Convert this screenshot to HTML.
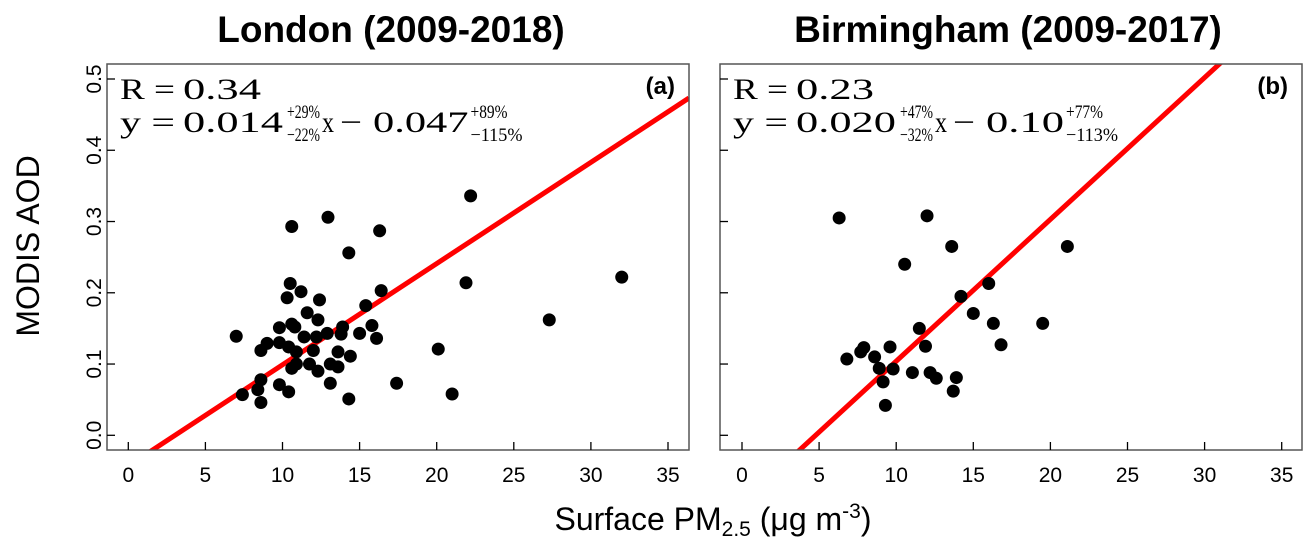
<!DOCTYPE html>
<html><head><meta charset="utf-8"><style>
body{margin:0;background:#fff;width:1315px;height:548px;overflow:hidden}
svg{display:block}
.t{font-family:"Liberation Sans",sans-serif}
.s{font-family:"Liberation Serif",serif}
</style></head><body>
<svg id="c" width="1315" height="548" xmlns="http://www.w3.org/2000/svg"></svg>
<script>
const xTicks=[0,5,10,15,20,25,30,35];
const yTicks=[0.0,0.1,0.2,0.3,0.4,0.5];
const yTickLabels=["0.0","0.1","0.2","0.3","0.4","0.5"];
const londonX=[10.6,12.95,16.3,14.3,10.5,11.2,10.3,12.4,16.4,15.4,11.6,12.3,7.0,9.8,10.6,10.8,11.4,12.2,12.9,13.9,13.8,15.0,15.8,16.1,9.0,8.6,9.8,10.4,10.9,12.0,13.6,14.4,10.6,10.9,11.75,12.3,13.1,13.6,8.6,8.4,9.8,10.4,7.4,8.6,13.1,14.3,17.4,22.2,21.9,32.0,27.3,20.1,21.0];
const londonY=[0.293,0.306,0.287,0.256,0.213,0.2015,0.193,0.19,0.203,0.182,0.172,0.162,0.139,0.151,0.156,0.152,0.138,0.138,0.143,0.152,0.142,0.143,0.154,0.136,0.129,0.119,0.13,0.124,0.117,0.119,0.117,0.111,0.094,0.10,0.10,0.09,0.10,0.096,0.078,0.064,0.071,0.061,0.057,0.046,0.073,0.051,0.073,0.336,0.214,0.222,0.162,0.121,0.058];
const birmX=[6.3,12.0,13.6,21.1,10.55,16.0,14.2,15.0,16.3,19.5,11.5,16.8,11.9,9.6,7.9,7.7,6.8,8.6,8.9,9.8,11.05,12.2,12.6,13.9,13.7,9.15,9.3];
const birmY=[0.305,0.308,0.265,0.265,0.240,0.213,0.195,0.171,0.157,0.157,0.150,0.127,0.125,0.124,0.123,0.117,0.107,0.110,0.094,0.093,0.088,0.088,0.080,0.081,0.062,0.075,0.042];
const londonFit=[0.0142,-0.043];
const birmFit=[0.0199,-0.095];

const NS="http://www.w3.org/2000/svg";
const svg=document.getElementById('c');
function el(tag,attrs,parent){const e=document.createElementNS(NS,tag);for(const k in attrs)e.setAttribute(k,attrs[k]);(parent||svg).appendChild(e);return e;}

function panel(cfg){
  const g=el('g',{});
  
  
  const L=cfg.left,R=cfg.right,T=64,B=450;
  const x0=cfg.x0, ux=15.42, y0=435.3, uy=712.6;
  const sx=v=>x0+v*ux, sy=v=>y0-v*uy;
  const clip=el('clipPath',{id:'cl'+cfg.id},g);
  el('rect',{x:L,y:T,width:R-L,height:B-T},clip);
  const xa=(L-x0)/ux, xb=(R-x0)/ux;
  const ln=el('line',{x1:sx(xa),y1:sy(cfg.fit[0]*xa+cfg.fit[1]),x2:sx(xb),y2:sy(cfg.fit[0]*xb+cfg.fit[1]),stroke:'#f00','stroke-width':5,'clip-path':'url(#cl'+cfg.id+')'},g);
  
  
  cfg.xs.forEach((v,i)=>{
    const p=el('circle',{cx:sx(v),cy:sy(cfg.ys[i]),r:6.5,fill:'#000'},g);
    
    
  });
  const fr=el('rect',{x:L,y:T,width:R-L,height:B-T,fill:'none',stroke:'#555','stroke-width':1.5},g);
  
  
  xTicks.forEach(v=>{
    el('line',{x1:sx(v),x2:sx(v),y1:B,y2:B-8,stroke:'#000','stroke-width':1.3},g);
    const t=el('text',{x:sx(v),y:482,'text-anchor':'middle','font-size':21,class:'t'},g);
    t.textContent=v;
    
    
  });
  yTicks.forEach((v,i)=>{
    el('line',{x1:L,x2:L+8,y1:sy(v),y2:sy(v),stroke:'#000','stroke-width':1.3},g);
    if(cfg.ylabels){
      const t=el('text',{x:0,y:0,'text-anchor':'middle','font-size':21,class:'t',transform:`translate(${L-6},${sy(v)}) rotate(-90)`},g);
      t.textContent=yTickLabels[i];
      
      
    }
  });
  const ti=el('text',{x:cfg.tx,y:42,'text-anchor':'middle','font-size':37,'font-weight':'bold',class:'t'},g);
  ti.textContent=cfg.title;
  
  
  const lab=el('text',{x:R-14,y:94,'text-anchor':'end','font-size':24,'font-weight':'bold',class:'t'},g);
  lab.textContent=cfg.label;
  
  
  const add=(par,txt,x,y,fs,len)=>{const a={x:x,y:y,'font-size':fs,class:'s'};if(len){a.textLength=len;a.lengthAdjust='spacingAndGlyphs';}const t=el('text',a,par);t.textContent=txt;return t;};
  const r=el('g',{},g);
  
  
  add(r,'R =',L+13,99,30,55);
  add(r,cfg.r,L+76,99,30,cfg.r.length*17.5+8);
  const eq=el('g',{},g);
  
  
  const e=cfg.eq;
  add(eq,'y =',L+13,132,30,55);
  add(eq,e[0],L+76,132,30,100);
  add(eq,e[1],L+180,118,19,33); add(eq,e[2],L+180,141,19,33);
  add(eq,'x',L+215,132,30,12);
  add(eq,'−',L+233,132,30,22);
  const n2=e[3].length*17.5+8;
  add(eq,e[3],L+266,132,30,n2);
  const b3=L+268+n2;
  add(eq,e[4],b3,118,19,37); add(eq,e[5],b3,141,19,e[5].length*10.4);
}
panel({id:'a',name:'london-panel',left:107,right:689,x0:128.3,xs:londonX,ys:londonY,fit:londonFit,title:'London (2009-2018)',tx:391,label:'(a)',r:'0.34',eq:['0.014','+29%','−22%','0.047','+89%','−115%'],ylabels:true});
panel({id:'b',name:'birmingham-panel',left:720,right:1302,x0:742,xs:birmX,ys:birmY,fit:birmFit,title:'Birmingham (2009-2017)',tx:1008,label:'(b)',r:'0.23',eq:['0.020','+47%','−32%','0.10','+77%','−113%'],ylabels:false});

const yl=el('text',{x:0,y:0,'text-anchor':'middle','font-size':32,class:'t',transform:'translate(39,246) rotate(-90)'});
yl.textContent='MODIS AOD';


const xl=el('text',{x:713,y:530,'text-anchor':'middle','font-size':32,class:'t'});
xl.innerHTML='Surface PM<tspan font-size="21" dy="6">2.5</tspan><tspan dy="-6"> (μg m</tspan><tspan font-size="21" dy="-12">-3</tspan><tspan dy="12">)</tspan>';


</script>
</body></html>
